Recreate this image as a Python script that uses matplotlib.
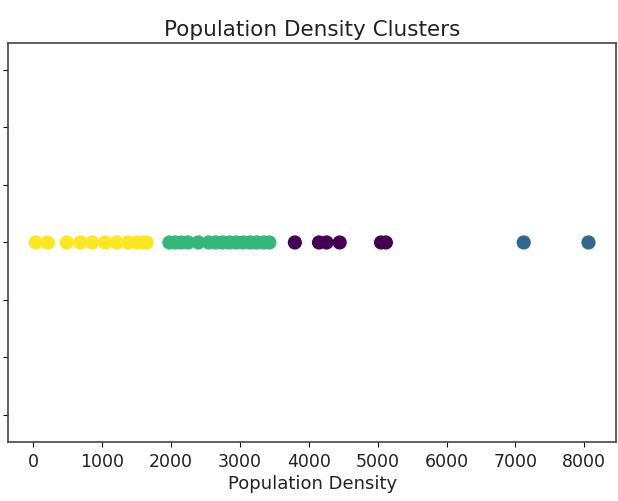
import numpy as np
import matplotlib
matplotlib.use("Agg")
import matplotlib.pyplot as plt

# Population density values per cluster
density_c0 = [3800, 4150, 4260, 4450, 5050, 5120]
density_c1 = [7120, 8060]
density_c2 = [1980, 2060, 2150, 2250, 2400, 2550, 2650, 2750, 2850,
              2950, 3050, 3150, 3250, 3350, 3430]
density_c3 = [40, 215, 490, 690, 860, 1050, 1220, 1380, 1510, 1600, 1650]

density = np.array(density_c0 + density_c1 + density_c2 + density_c3)
labels = np.array([0] * len(density_c0) + [1] * len(density_c1)
                  + [2] * len(density_c2) + [3] * len(density_c3))

fig = plt.figure(figsize=(6.18, 5.02), dpi=100)
ax = fig.add_axes([0.013, 0.1175, 0.984, 0.795])

ax.scatter(density, np.zeros_like(density), c=labels, cmap="viridis", s=85)

ax.set_title("Population Density Clusters", fontsize=15.5, pad=6, color="#222222")
ax.set_xlabel("Population Density", fontsize=13, labelpad=3, color="#222222")
ax.set_xticks(np.arange(0, 9000, 1000))
ax.tick_params(axis="x", labelsize=12.5, labelcolor="#222222")
ax.set_yticks(np.arange(-0.06, 0.061, 0.02))
ax.set_yticklabels([])
ax.set_ylim(-0.0694, 0.0694)
for sp in ax.spines.values():
    sp.set_color("#444444")
    sp.set_linewidth(1.2)

fig.savefig("out.png", dpi=100)
